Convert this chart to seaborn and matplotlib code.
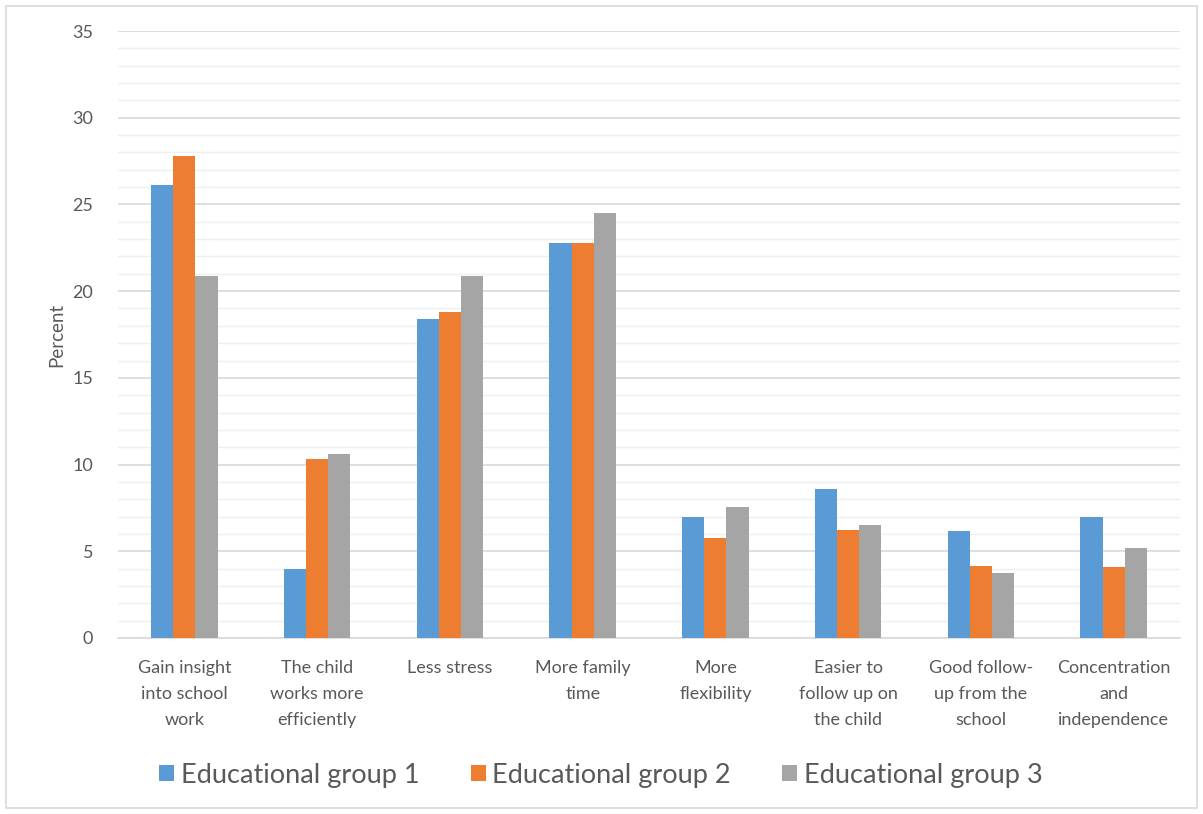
import matplotlib
matplotlib.use("Agg")
import matplotlib.pyplot as plt
import seaborn as sns
import pandas as pd
from matplotlib.patches import Rectangle
from matplotlib.ticker import MultipleLocator

categories = [
    "Gain insight\ninto school\nwork",
    "The child\nworks more\nefficiently",
    "Less stress",
    "More family\ntime",
    "More\nflexibility",
    "Easier to\nfollow up on\nthe child",
    "Good follow-\nup from the\nschool",
    "Concentration\nand\nindependence",
]
groups = ["Educational group 1", "Educational group 2", "Educational group 3"]
group1 = [26.1, 4.0, 18.4, 22.8, 7.0, 8.6, 6.15, 7.0]
group2 = [27.8, 10.3, 18.8, 22.8, 5.75, 6.25, 4.15, 4.1]
group3 = [20.9, 10.6, 20.9, 24.5, 7.55, 6.5, 3.75, 5.2]
y_label = "Percent"

rows = []
for g, vals in zip(groups, [group1, group2, group3]):
    for c, v in zip(categories, vals):
        rows.append({"category": c, "group": g, "value": v})
df = pd.DataFrame(rows)

sns.set_theme(style="white")
plt.rcParams["font.family"] = ["Lato", "DejaVu Sans"]

text_color = "#595959"
palette = {"Educational group 1": "#5B9BD5",
           "Educational group 2": "#ED7D31",
           "Educational group 3": "#A5A5A5"}

fig = plt.figure(figsize=(12.03, 8.14), dpi=100)
ax = fig.add_axes([118 / 1203, 1 - 638 / 814, (1180 - 118) / 1203, (638 - 31) / 814])

sns.barplot(data=df, x="category", y="value", hue="group", palette=palette,
            width=0.5, saturation=1, ax=ax, legend=True, zorder=3, linewidth=0)

ax.set_ylim(0, 35)
ax.set_xlim(-0.5, len(categories) - 0.5)
ax.yaxis.set_major_locator(MultipleLocator(5))
ax.yaxis.set_minor_locator(MultipleLocator(1))
ax.grid(which="major", axis="y", color="#d9d9d9", linewidth=1.2, zorder=0)
ax.grid(which="minor", axis="y", color="#efefef", linewidth=1.0, zorder=0)
ax.set_axisbelow(True)
for s in ["top", "right", "left"]:
    ax.spines[s].set_visible(False)
ax.spines["bottom"].set_color("#d9d9d9")
ax.spines["bottom"].set_linewidth(1.2)

ax.tick_params(axis="both", which="both", length=0, colors=text_color, labelsize=13)
ax.tick_params(axis="y", pad=18)
ax.tick_params(axis="x", pad=16)
for lab in ax.get_xticklabels():
    lab.set_linespacing(1.75)
ax.set_xlabel("")
ax.set_ylabel(y_label, color=text_color, fontsize=13.5, labelpad=5)

handles, labels = ax.get_legend_handles_labels()
ax.get_legend().remove()
fig.legend(handles, labels, loc="center", bbox_to_anchor=(601 / 1203, 1 - 775 / 814),
           ncol=3, frameon=False, fontsize=19.5, handlelength=0.55, handleheight=0.55,
           handletextpad=0.25, columnspacing=1.9, labelcolor=text_color)

fig.patches.append(Rectangle((6 / 1203, 6 / 814), 1191 / 1203, 802 / 814,
                             transform=fig.transFigure, fill=False,
                             edgecolor="#d9d9d9", linewidth=1.2))

fig.savefig("out.png", dpi=100, facecolor="white")
